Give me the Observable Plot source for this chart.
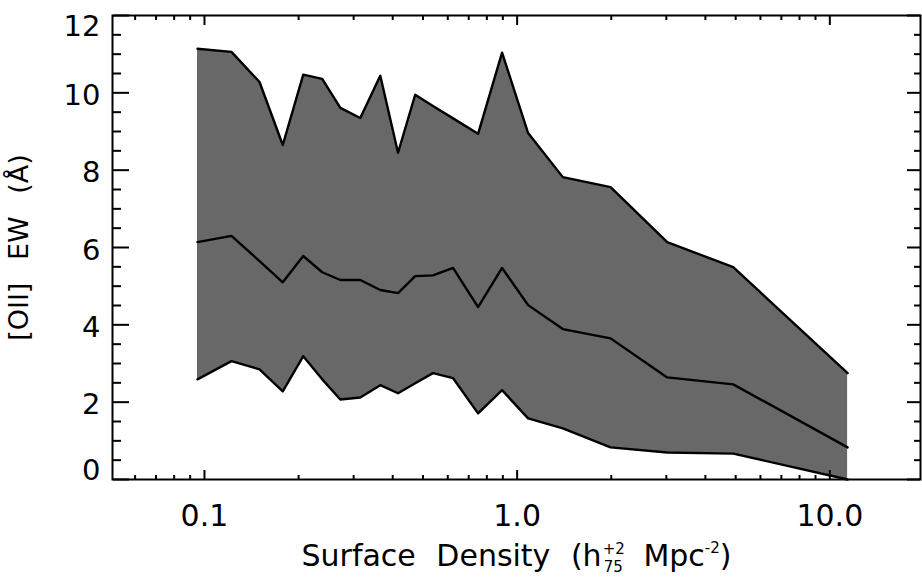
<!DOCTYPE html>
<html>
<head>
<meta charset="utf-8">
<script src="https://cdn.jsdelivr.net/npm/d3@7"></script>
<script src="https://cdn.jsdelivr.net/npm/@observablehq/plot@0.6"></script>
<style>
  html, body { margin: 0; padding: 0; background: #fff; }
  #chart svg { display: block; }
</style>
</head>
<body>
<div id="chart"></div>
<script>
// Surface density bins (h75^2 Mpc^-2)
const density  = [0.095, 0.122, 0.150, 0.178, 0.207, 0.238, 0.272, 0.315, 0.365, 0.416, 0.472, 0.538, 0.624, 0.750, 0.895, 1.084, 1.40, 1.99, 3.02, 4.91, 11.4];
// [OII] EW (Å): upper bound, median, lower bound
const upperEW  = [11.14, 11.06, 10.28, 8.65, 10.47, 10.36, 9.61, 9.35, 10.44, 8.45, 9.95, 9.66, 9.34, 8.94, 11.04, 8.96, 7.82, 7.56, 6.14, 5.49, 2.75];
const medianEW = [6.14, 6.30, 5.65, 5.10, 5.78, 5.36, 5.16, 5.16, 4.90, 4.82, 5.26, 5.28, 5.47, 4.46, 5.47, 4.51, 3.89, 3.65, 2.64, 2.46, 0.83];
const lowerEW  = [2.59, 3.06, 2.85, 2.28, 3.19, 2.59, 2.07, 2.12, 2.44, 2.23, 2.49, 2.75, 2.62, 1.71, 2.31, 1.58, 1.32, 0.83, 0.70, 0.67, 0.0];

// Tick values
const xMajor = [0.1, 1, 10];
const xMinor = [0.06, 0.07, 0.08, 0.09, 0.2, 0.3, 0.4, 0.5, 0.6, 0.7, 0.8, 0.9, 2, 3, 4, 5, 6, 7, 8, 9];
const yMajor = [0, 2, 4, 6, 8, 10, 12];
const yMinor = [0.5, 1, 1.5, 2.5, 3, 3.5, 4.5, 5, 5.5, 6.5, 7, 7.5, 8.5, 9, 9.5, 10.5, 11, 11.5];
const yLabelsMid = [2, 4, 6, 8, 10];
const yLabelBottom = [0];
const yLabelTop = [12];

const xLabel = "Surface Density (h Mpc)";
const yLabel = "[OII] EW (Å)";

const rows = density.map((d, i) => ({x: d, lo: lowerEW[i], med: medianEW[i], hi: upperEW[i]}));

const W = 922, H = 577, ML = 112, MR = 2, MT = 15, MB = 98;
const plotW = W - ML - MR, plotH = H - MT - MB;

const tickOpts = {fill: "none", label: null, stroke: "black", strokeWidth: 2};
const ylab = {anchor: "left", tickSize: 0, tickPadding: 12, label: null, fill: "black", fontSize: 29};

const chart = Plot.plot({
  width: W,
  height: H,
  marginLeft: ML,
  marginRight: MR,
  marginTop: MT,
  marginBottom: MB,
  style: {fontFamily: "DejaVu Sans", fontSize: "30px", color: "black", background: "white"},
  x: {type: "log", domain: [0.0508, 19.5]},
  y: {domain: [0, 12]},
  marks: [
    Plot.areaY(rows, {x: "x", y1: "lo", y2: "hi", fill: "#686868"}),
    Plot.lineY(rows, {x: "x", y: "hi", stroke: "black", strokeWidth: 2.4}),
    Plot.lineY(rows, {x: "x", y: "med", stroke: "black", strokeWidth: 2.4}),
    Plot.lineY(rows, {x: "x", y: "lo", stroke: "black", strokeWidth: 2.4}),
    Plot.frame({stroke: "black", strokeWidth: 2}),
    // inward ticks: opposite-side axes shifted onto the frame
    Plot.axisY(yMajor, {anchor: "right", tickSize: 16, dx: -plotW, ...tickOpts}),
    Plot.axisY(yMinor, {anchor: "right", tickSize: 8, dx: -plotW, ...tickOpts}),
    Plot.axisY(yMajor, {anchor: "left", tickSize: 13, dx: plotW, ...tickOpts}),
    Plot.axisY(yMinor, {anchor: "left", tickSize: 6, dx: plotW, ...tickOpts}),
    Plot.axisX(xMajor, {anchor: "top", tickSize: 10, dy: plotH, ...tickOpts}),
    Plot.axisX(xMinor, {anchor: "top", tickSize: 5, dy: plotH, ...tickOpts}),
    Plot.axisX(xMajor, {anchor: "bottom", tickSize: 10, dy: -plotH, ...tickOpts}),
    Plot.axisX(xMinor, {anchor: "bottom", tickSize: 5, dy: -plotH, ...tickOpts}),
    // tick labels
    Plot.axisY(yLabelsMid, {...ylab, dy: 3}),
    Plot.axisY(yLabelBottom, {...ylab, dy: -9}),
    Plot.axisY(yLabelTop, {...ylab, dy: 11}),
    Plot.axisX(xMajor, {anchor: "bottom", tickSize: 0, tickPadding: 25, label: null, fill: "black", fontSize: 30, tickFormat: d3.format(".1f")}),
    // axis labels
    Plot.axisY([], {anchor: "left", tickSize: 0, label: yLabel, labelAnchor: "center", labelArrow: "none", labelOffset: 104, fill: "black", fontSize: 27}),
    Plot.axisX([], {anchor: "bottom", tickSize: 0, label: xLabel, labelAnchor: "center", labelArrow: "none", labelOffset: 86, fill: "black", fontSize: 30})
  ]
});

document.getElementById("chart").appendChild(chart);

const svg = d3.select(chart);
// y label without arrow, wider word gaps
const yl = svg.select('g[aria-label="y-axis label"] text');
if (!yl.empty()) yl.text(yLabel).style("word-spacing", "14px");
// Rich text for x label: h with stacked +2 / 75, and Mpc^-2
const xl = svg.select('g[aria-label="x-axis label"] text');
if (!xl.empty()) {
  xl.text(null).style("word-spacing", "11px");
  xl.append("tspan").text("Surface Density (h");
  xl.append("tspan").attr("font-size", 15).attr("dy", -12).attr("dx", 1).text("+2");
  xl.append("tspan").attr("font-size", 15).attr("dy", 18).attr("dx", -21).text("75");
  xl.append("tspan").attr("font-size", 30).attr("dy", -6).text(" Mpc");
  xl.append("tspan").attr("font-size", 15).attr("dy", -13).text("-2");
  xl.append("tspan").attr("font-size", 30).attr("dy", 13).text(")");
}
</script>
</body>
</html>
